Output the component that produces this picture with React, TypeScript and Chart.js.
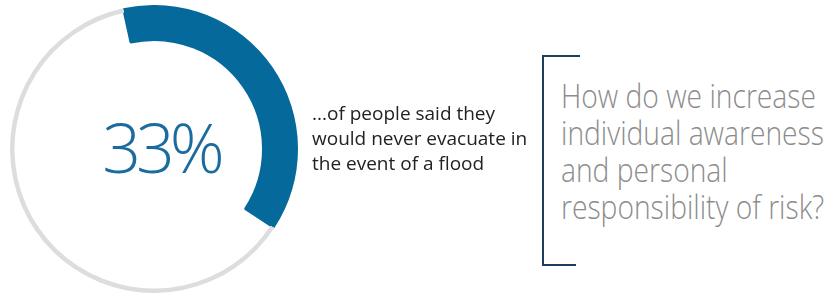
import React, { useEffect, useRef } from "react";
import { Chart, registerables } from "chart.js";

Chart.register(...registerables);

// Data
const segmentLabels = ["Would never evacuate", "Others"];
const arcValues = [37.7, 62.3];
const percentLabel = "33%";
const statementLines = ["...of people said they", "would never evacuate in", "the event of a flood"];
const questionLines = ["How do we increase", "individual awareness", "and personal", "responsibility of risk?"];

const BLUE = "#05699b";
const GREY = "#dcdddf";

export default function App() {
  const canvasRef = useRef<HTMLCanvasElement | null>(null);

  useEffect(() => {
    const canvas = canvasRef.current;
    if (!canvas) return;
    const chart = new Chart(canvas, {
      type: "doughnut",
      data: {
        labels: segmentLabels,
        datasets: [
          {
            data: arcValues,
            backgroundColor: [BLUE, GREY],
            borderWidth: 0,
            weight: 4.5,
          },
          {
            data: arcValues,
            backgroundColor: [BLUE, "rgba(0,0,0,0)"],
            borderWidth: [2, 0],
            borderColor: [BLUE, "rgba(0,0,0,0)"],
            weight: 30.5,
          },
        ],
      },
      options: {
        responsive: false,
        maintainAspectRatio: false,
        animation: false,
        rotation: -12.4,
        cutout: "75.7%",
        layout: { padding: 0 },
        plugins: {
          legend: { display: false },
          tooltip: { enabled: false },
        },
        events: [],
      } as any,
    });
    return () => chart.destroy();
  }, []);

  return (
    <div style={{ position: "absolute", left: 0, top: 0, width: 828, height: 295, background: "#fff", overflow: "hidden" }}>
      <canvas ref={canvasRef} width={288} height={288} style={{ position: "absolute", left: 10, top: 5, width: 288, height: 288 }} />
      <div
        style={{
          position: "absolute",
          left: 54,
          width: 214,
          top: 103,
          textAlign: "center",
          fontFamily: "'Open Sans', sans-serif",
          fontWeight: 300,
          fontSize: 68,
          lineHeight: "88px",
          color: "#1a6c9e",
          letterSpacing: -5,
        }}
      >
        {percentLabel}
      </div>
      <div
        style={{
          position: "absolute",
          left: 312,
          top: 101,
          fontFamily: "'Open Sans', sans-serif",
          fontSize: 19,
          lineHeight: "25px",
          color: "#222",
          whiteSpace: "nowrap",
        }}
      >
        {statementLines.map((l, i) => (
          <div key={i}>{l}</div>
        ))}
      </div>
      <div style={{ position: "absolute", left: 542, top: 55, width: 2, height: 211, background: "#1d3e5e" }} />
      <div style={{ position: "absolute", left: 542, top: 55, width: 38, height: 2, background: "#1d3e5e" }} />
      <div style={{ position: "absolute", left: 542, top: 264, width: 34, height: 2, background: "#1d3e5e" }} />
      <div
        style={{
          position: "absolute",
          left: 561,
          top: 77,
          fontFamily: "'Open Sans', sans-serif",
          fontWeight: 300,
          fontSize: 33,
          lineHeight: "37px",
          color: "#8c8c8c",
          whiteSpace: "nowrap",
          transform: "scaleX(0.855)",
          transformOrigin: "0 0",
        }}
      >
        {questionLines.map((l, i) => (
          <div key={i}>{l}</div>
        ))}
      </div>
    </div>
  );
}
